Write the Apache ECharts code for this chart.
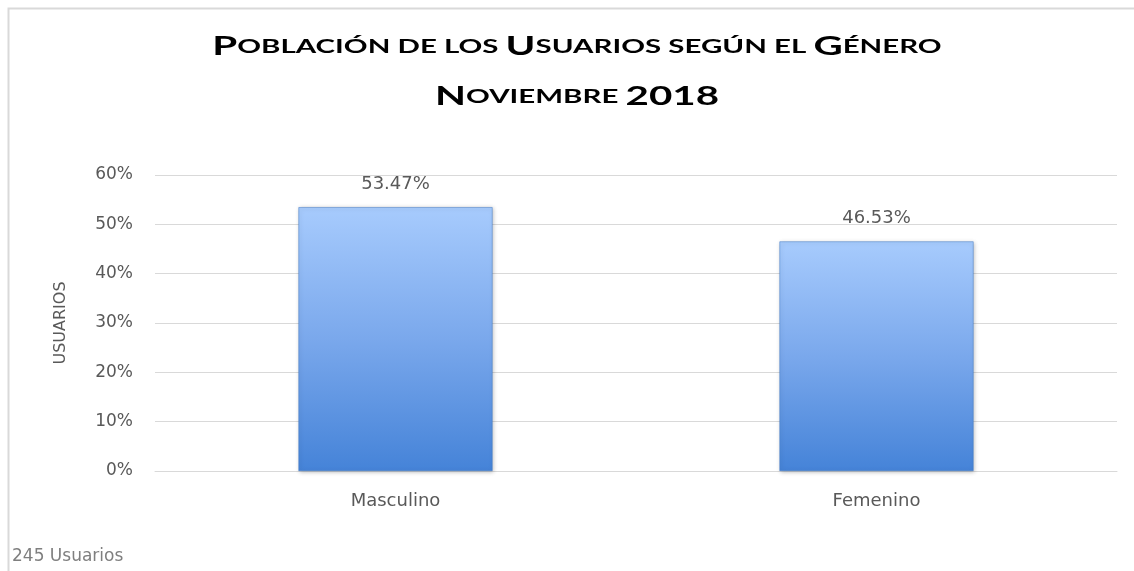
<!DOCTYPE html>
<html>
<head>
<meta charset="utf-8">
<script src="https://cdn.jsdelivr.net/npm/echarts@6/dist/echarts.min.js"></script>
<style>
html,body{margin:0;padding:0;background:#fff;}
#main{width:1134px;height:571px;}
</style>
</head>
<body>
<div id="main"></div>
<script>
const categories = ['Masculino', 'Femenino'];
const shares = [0.5347, 0.4653];
const yTicks = [0, 0.1, 0.2, 0.3, 0.4, 0.5, 0.6];
const yAxisTitle = 'USUARIOS';
const footnote = '245 Usuarios';
const titleRich = '{b|P}{s|OBLACIÓN DE LOS }{b|U}{s|SUARIOS SEGÚN EL }{b|G}{s|ÉNERO}\n{b|N}{s|OVIEMBRE }{b|2018}';

const chart = echarts.init(document.getElementById('main'));
const grey = '#595959';
const font = 'DejaVu Sans';
chart.setOption({
  animation: false,
  backgroundColor: '#fff',
  grid: {left: 155, right: 17, top: 175, bottom: 100, containLabel: false},
  xAxis: {
    type: 'category',
    data: categories,
    axisLine: {lineStyle: {color: '#d9d9d9', width: 1}},
    axisTick: {show: false},
    axisLabel: {color: grey, fontSize: 18, fontFamily: font, margin: 21}
  },
  yAxis: {
    type: 'value',
    min: yTicks[0],
    max: yTicks[yTicks.length - 1],
    interval: 0.1,
    name: yAxisTitle,
    nameLocation: 'middle',
    nameGap: 86,
    nameRotate: 90,
    nameTextStyle: {color: grey, fontSize: 16, fontFamily: font},
    axisLine: {show: false},
    axisTick: {show: false},
    splitLine: {lineStyle: {color: '#d9d9d9', width: 1}},
    axisLabel: {color: grey, fontSize: 17, fontFamily: font, margin: 22,
      formatter: v => Math.round(v * 100) + '%'}
  },
  series: [{
    type: 'bar',
    data: shares,
    barWidth: 194,
    itemStyle: {
      color: new echarts.graphic.LinearGradient(0, 0, 0, 1, [
        {offset: 0, color: '#a7cbfd'},
        {offset: 0.5, color: '#7aa8ec'},
        {offset: 1, color: '#4583d8'}
      ]),
      borderColor: '#3f78c6',
      borderWidth: 0.5,
      shadowColor: 'rgba(0,0,0,0.25)',
      shadowBlur: 4,
      shadowOffsetX: 1,
      shadowOffsetY: 1
    },
    label: {
      show: true,
      position: 'top',
      distance: 14,
      color: grey,
      fontSize: 18,
      fontFamily: font,
      formatter: p => (p.value * 100).toFixed(2) + '%'
    }
  }],
  graphic: [
    {type: 'rect', shape: {x: 8.5, y: 8.5, width: 1200, height: 700},
     style: {fill: 'none', stroke: '#d9d9d9', lineWidth: 2}, silent: true},
    {type: 'text', x: 577, y: 22, scaleX: 1.55, scaleY: 1,
     style: {
       text: titleRich, x: 0, y: 0, align: 'center', verticalAlign: 'top',
       rich: {
         b: {fontFamily: 'Lato', fontWeight: 'bold', fontSize: 26, fill: '#000', lineHeight: 50},
         s: {fontFamily: 'Lato', fontWeight: 'bold', fontSize: 19, fill: '#000', lineHeight: 50}
       }
     }},
    {type: 'text', left: 12, top: 548,
     style: {text: footnote, fill: '#7f7f7f', fontSize: 17, fontFamily: font}}
  ]
});
</script>
</body>
</html>
